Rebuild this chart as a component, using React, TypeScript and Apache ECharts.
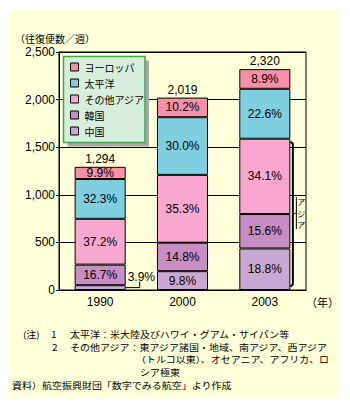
import React, { useEffect, useRef } from "react";
import * as echarts from "echarts";

const years = ["1990", "2000", "2003"];
const totals = [1294, 2019, 2320];
const europePct = [9.9, 10.2, 8.9];
const pacificPct = [32.3, 30.0, 22.6];
const otherAsiaPct = [37.2, 35.3, 34.1];
const koreaPct = [16.7, 14.8, 15.6];
const chinaPct = [3.9, 9.8, 18.8];
const yTicks = [0, 500, 1000, 1500, 2000, 2500];

const seriesDefs = [
  { name: "中国", pct: chinaPct, color: "#C9A9D3" },
  { name: "韓国", pct: koreaPct, color: "#C88DC4" },
  { name: "その他アジア", pct: otherAsiaPct, color: "#F8A8D0" },
  { name: "太平洋", pct: pacificPct, color: "#7FCFE1" },
  { name: "ヨーロッパ", pct: europePct, color: "#F590A8" },
];
const legendOrder = ["ヨーロッパ", "太平洋", "その他アジア", "韓国", "中国"];
const bracketChars = ["ア", "ジ", "ア"];
const notes = [
  { x: 23, y: 334, t: "(注)" },
  { x: 51, y: 334, t: "1" },
  { x: 70, y: 334, t: "太平洋：米大陸及びハワイ・グアム・サイパン等" },
  { x: 52, y: 346.8, t: "2" },
  { x: 70, y: 346.8, t: "その他アジア：東アジア諸国・地域、南アジア、西アジア" },
  { x: 136, y: 359.6, t: "（トルコ以東）、オセアニア、アフリカ、ロ" },
  { x: 140, y: 372.4, t: "シア極東" },
  { x: 12, y: 385.2, t: "資料）航空振興財団「数字でみる航空」より作成" },
];

const FONT = "'Noto Sans CJK JP', sans-serif";
const NUMFONT = "'Liberation Sans', 'Noto Sans CJK JP', sans-serif";

export default function App() {
  const ref = useRef<HTMLDivElement>(null);
  useEffect(() => {
    document.body.style.margin = "0";
    if (!ref.current) return;
    const chart = echarts.init(ref.current, null, { renderer: "svg" });
    const vals = seriesDefs.map((s) => s.pct.map((p, i) => (totals[i] * p) / 100));
    const series: any[] = seriesDefs.map((s, si) => ({
      name: s.name,
      type: "bar",
      stack: "a",
      barCategoryGap: "38%",
      itemStyle: { color: s.color, borderColor: "#000", borderWidth: 1 },
      label: {
        show: true,
        position: "inside",
        color: "#000",
        fontSize: 12,
        fontFamily: NUMFONT,
        formatter: (p: any) => s.pct[p.dataIndex].toFixed(1) + "%",
      },
      data: vals[si].map((v, i) =>
        si === 0 && i === 0
          ? { value: v, label: { position: "right", distance: 2, offset: [0, -11] } }
          : v
      ),
    }));
    series.push({
      name: "total",
      type: "bar",
      stack: "a",
      itemStyle: { color: "transparent", borderWidth: 0 },
      label: {
        show: true,
        position: "top",
        distance: 2,
        color: "#000",
        fontSize: 12,
        fontFamily: NUMFONT,
        formatter: (p: any) => totals[p.dataIndex].toLocaleString("en-US"),
      },
      data: totals.map(() => 0),
    });
    const option: any = {
      animation: false,
      backgroundColor: "transparent",
      textStyle: { fontFamily: FONT },
      grid: { left: 59, top: 52, width: 247, height: 238, show: true, borderColor: "#000", borderWidth: 1, backgroundColor: "transparent" },
      legend: {
        data: legendOrder,
        orient: "vertical",
        left: 70,
        top: 61,
        padding: 0,
        itemWidth: 8,
        itemHeight: 8,
        itemGap: 4,
        icon: "rect",
        z: 6,
        itemStyle: { borderColor: "#000", borderWidth: 1 },
        textStyle: { fontSize: 10, lineHeight: 12, color: "#000", fontFamily: FONT, padding: [0, 0, 0, 1] },
      },
      xAxis: {
        type: "category",
        data: years,
        axisLine: { lineStyle: { color: "#000" } },
        axisTick: { show: false },
        axisLabel: { color: "#000", fontSize: 12, margin: 6, fontFamily: NUMFONT },
      },
      yAxis: {
        type: "value",
        min: yTicks[0],
        max: yTicks[yTicks.length - 1],
        interval: 500,
        axisLine: { show: true, lineStyle: { color: "#000" } },
        axisTick: { show: true, length: 3, lineStyle: { color: "#000" } },
        splitLine: { lineStyle: { color: "#000" } },
        axisLabel: {
          color: "#000",
          fontSize: 12,
          lineHeight: 12,
          margin: 4,
          fontFamily: NUMFONT,
          formatter: (v: number) => v.toLocaleString("en-US"),
        },
      },
      series,
    };
    chart.setOption(option);

    const c0 = chart.convertToPixel({ xAxisIndex: 0 }, years[0]) as number;
    const c1 = chart.convertToPixel({ xAxisIndex: 0 }, years[1]) as number;
    const c2 = chart.convertToPixel({ xAxisIndex: 0 }, years[2]) as number;
    const halfBar = ((c1 - c0) * 0.62) / 2;
    const yPix = (v: number) => chart.convertToPixel({ yAxisIndex: 0 }, v) as number;
    const y0 = yPix(0);
    const chinaMid = yPix(vals[0][0] / 2);
    const lx = c0 + halfBar;
    const asiaTop2003 = yPix(vals[0][2] + vals[1][2] + vals[2][2]);
    const bx = c2 + halfBar + 2.5;
    const bTop = asiaTop2003 + 3;
    const bBot = y0 - 3.5;
    const bMid = (bTop + bBot) / 2;

    const noteFs = 8.8;
    const graphic: any[] = [
      { type: "rect", z: 3, shape: { x: 67.5, y: 60.5, width: 81.5, height: 86 }, style: { fill: "#A8A8A8" } },
      { type: "rect", z: 3, shape: { x: 63.5, y: 56.5, width: 81.5, height: 86 }, style: { fill: "#D8EEDD", stroke: "#3DAA4A", lineWidth: 1.5 } },
      { type: "text", z: 5, x: 15, y: 38.5, style: { text: "（往復便数／週）", fontSize: 10, lineHeight: 10, fontFamily: FONT, fill: "#000", verticalAlign: "middle" } },
      { type: "text", z: 5, x: 306, y: 302, style: { text: "（年）", fontSize: 11, fontFamily: FONT, fill: "#000", verticalAlign: "middle" } },
      { type: "polyline", z: 5, shape: { points: [[lx, chinaMid], [lx + 14, chinaMid], [lx + 14, chinaMid - 6]] }, style: { stroke: "#000", lineWidth: 1, fill: null } },
      { type: "polyline", z: 5, shape: { points: [[bx - 2.5, bTop], [bx, bTop + 2], [bx, bBot - 2], [bx - 2.5, bBot]] }, style: { stroke: "#000", lineWidth: 2, fill: null } },
      { type: "line", z: 5, shape: { x1: bx, y1: bMid, x2: bx + 3, y2: bMid - 1 }, style: { stroke: "#000", lineWidth: 1 } },
      { type: "line", z: 5, shape: { x1: bx + 3.5, y1: bMid - 17, x2: bx + 3.5, y2: bMid + 15 }, style: { stroke: "#000", lineWidth: 1 } },
      ...bracketChars.map((ch, i) => ({
        type: "text", z: 5, x: bx + 8.5, y: bMid - 12.7 + i * 11.7,
        style: { text: ch, fontSize: 8, lineHeight: 8, fontFamily: FONT, fill: "#000", align: "center", verticalAlign: "middle" },
      })),
      ...notes.map((n) => ({
        type: "text", z: 5, x: n.x, y: n.y, scaleX: 10 / noteFs,
        style: { text: n.t, fontSize: noteFs, lineHeight: noteFs, fontFamily: FONT, fill: "#000", verticalAlign: "middle" },
      })),
    ];
    chart.setOption({ graphic });
    return () => chart.dispose();
  }, []);
  return (
    <div style={{ position: "relative", width: 350, height: 408, background: "#fff" }}>
      <div style={{ position: "absolute", left: 10, top: 10, width: 330, height: 387, background: "#FFFFD9" }} />
      <div ref={ref} style={{ position: "absolute", left: 0, top: 0, width: 350, height: 408 }} />
    </div>
  );
}
